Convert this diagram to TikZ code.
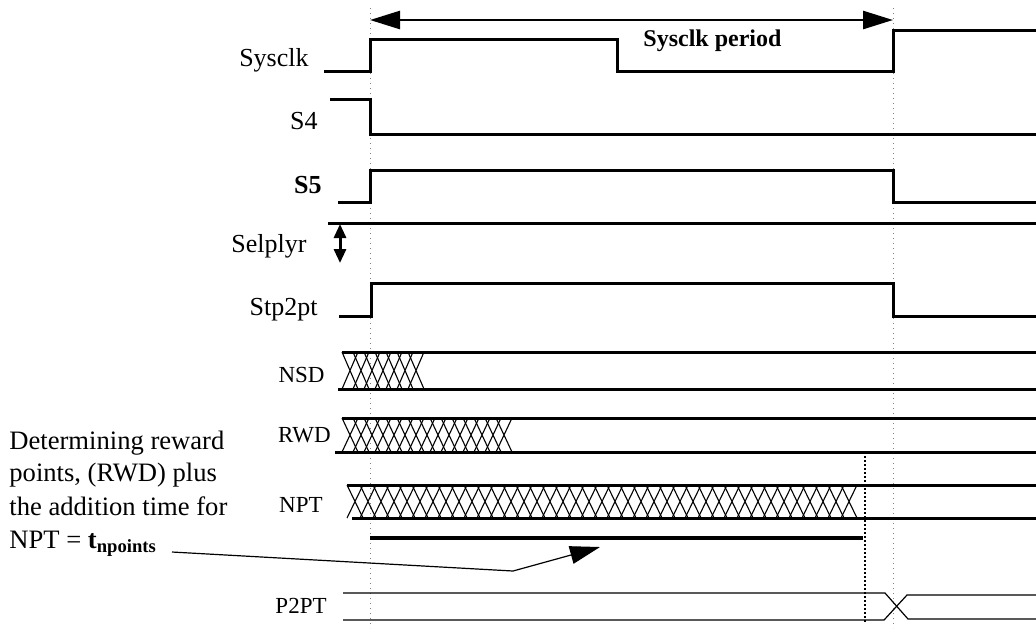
\documentclass[tikz,border=0pt]{standalone}
\usepackage{fontspec}
\setmainfont{Liberation Serif}
\usetikzlibrary{arrows.meta}

\tikzset{
  sig/.style={line width=1.5pt},
  hatch/.style={line width=0.55pt},
  guide/.style={gray,dotted,line width=0.5pt},
  lbl/.style={anchor=base east,inner sep=0pt,font=\fontsize{13}{15}\selectfont},
  buslbl/.style={anchor=base east,inner sep=0pt,font=\fontsize{11.5}{14}\selectfont},
  note/.style={anchor=base west,inner sep=0pt,font=\fontsize{13.3}{16}\selectfont},
  bigboth/.style={{Triangle[length=15pt,width=9pt]}-{Triangle[length=15pt,width=9pt]}},
}

\begin{document}
\begin{tikzpicture}[x=0.5pt,y=-0.5pt]
  \useasboundingbox (0,0) rectangle (1036,628);

  % signal names
  \node[lbl] (sysclk) at (309,66) {Sysclk};
  \node[lbl] (s4) at (318,129) {S4};
  \node[lbl,font=\fontsize{13}{15}\selectfont\bfseries] (s5) at (322,193) {S5};
  \node[lbl] (selplyr) at (307,252) {Selplyr};
  \node[lbl] (stp2pt) at (318,315) {Stp2pt};
  \node[buslbl] (nsd) at (325,382) {NSD};
  \node[buslbl] (rwd) at (331,442) {RWD};
  \node[buslbl] (npt) at (323,512) {NPT};
  \node[buslbl] (p2pt) at (327,613) {P2PT};
  \node[anchor=base west,inner sep=0pt,font=\fontsize{12}{14}\selectfont\bfseries] (period) at (643,46) {Sysclk period};

  % note on the left
  \node[note] (note1) at (9,449) {Determining reward};
  \node[note] (note2) at (9,481) {points, (RWD) plus};
  \node[note] (note3) at (9,515) {the addition time for};
  \node[note] (note4) at (9,548) {NPT = \textbf{t}\textsubscript{\textbf{npoints}}};

  % period marks
  \draw[guide] (370,8) -- (370,628);
  \draw[guide] (893,8) -- (893,628);
  \draw[densely dotted,line width=1pt] (865,452) -- (865,623);
  \coordinate (start) at (370,20);
  \coordinate (stop) at (893,20);
  \draw[line width=1.3pt,bigboth] (start) -- (stop);

  % waveforms
  \draw[sig] (324,71) -- (370,71) -- (370,39) -- (617,39) -- (617,71) -- (893,71) -- (893,30) -- (1036,30);
  \draw[sig] (330,99) -- (370,99) -- (370,134) -- (1036,134);
  \draw[sig] (338,202) -- (370,202) -- (370,170) -- (893,170) -- (893,202) -- (1036,202);
  \draw[sig] (328,223) -- (1036,223);
  \coordinate (up) at (340,224);
  \coordinate (down) at (340,263);
  \draw[line width=1.5pt,{Triangle[length=7pt,width=6pt]}-{Triangle[length=7pt,width=6pt]}] (up) -- (down);
  \draw[sig] (339,316) -- (371,316) -- (371,283) -- (893,283) -- (893,316) -- (1036,316);

  % buses
  \draw[sig] (342,352) -- (1036,352) (338,389) -- (1036,389);
  \foreach \x in {342,353,...,414}
    \draw[hatch] (\x,389) -- ++(16,-37) (\x,352) -- ++(16,37);
  \draw[sig] (342,418) -- (1036,418) (335,452) -- (1036,452);
  \foreach \x in {342,353,...,502}
    \draw[hatch] (\x,452) -- ++(16,-34) (\x,418) -- ++(16,34);
  \draw[sig] (347,485) -- (1036,485) (352,518) -- (1036,518);
  \foreach \x in {347,360,...,849}
    \draw[hatch] (\x,518) -- ++(16,-33) (\x,485) -- ++(16,33);
  \draw[line width=2pt] (370,538) -- (863,538);

  \draw[line width=0.6pt] (343,593) -- (885,593) -- (908,619) -- (1036,619);
  \draw[line width=0.6pt] (343,620) -- (884,620) -- (907,595) -- (1036,595);

  % leader from the note
  \coordinate (lead) at (172,552);
  \coordinate (kink) at (513,571);
  \coordinate (tip) at (600,547);
  \draw[line width=0.6pt,-{Triangle[length=15pt,width=9pt]}] (lead) -- (kink) -- (tip);
\end{tikzpicture}
\end{document}
